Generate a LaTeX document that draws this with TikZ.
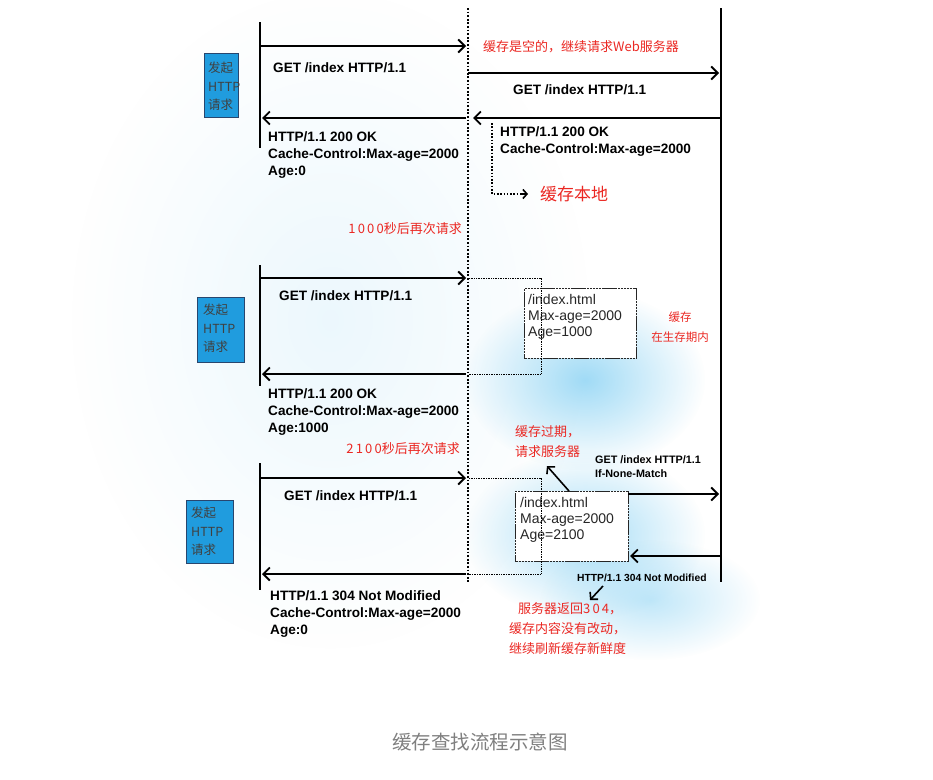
\documentclass[tikz,border=0pt]{standalone}
\usepackage{fontspec}
\setmainfont{Liberation Sans}
\newfontfamily\cjk{Noto Sans CJK SC}
\usetikzlibrary{arrows.meta,fadings}
\definecolor{boxblue}{RGB}{32,156,222}
\definecolor{boxedge}{RGB}{40,70,110}
\definecolor{glowblue}{RGB}{150,215,245}
\definecolor{redtxt}{RGB}{235,40,35}
\definecolor{captiongray}{RGB}{128,128,128}
\tikzfading[name=glowfade, inner color=transparent!0, outer color=transparent!100]
\begin{document}
\begin{tikzpicture}[x=1pt,y=-1pt,
  msg/.style={line width=1.8pt, -{Straight Barb[length=6.5pt,width=13pt,line width=1.8pt]}},
  smallmsg/.style={line width=1.6pt, -{Straight Barb[length=5pt,width=11pt,line width=1.6pt]}},
  lifeline/.style={line width=2pt},
  cacheline/.style={line width=2pt, dash pattern=on 1.8pt off 1.8pt},
  thindot/.style={line width=0.7pt, dash pattern=on 0.8pt off 0.9pt},
  lbl/.style={font=\bfseries\fontsize{13.6}{17}\selectfont, inner sep=0pt, align=left},
  smlbl/.style={font=\bfseries\fontsize{10.8}{14}\selectfont, inner sep=0pt, align=left},
  redlbl/.style={text=redtxt, font=\cjk\fontsize{13}{20}\selectfont, inner sep=0pt, align=left},
  startbox/.style={draw=boxedge, line width=0.6pt, fill=boxblue, minimum width=#1, inner sep=0pt},
  boxtxt/.style={font=\cjk\fontsize{12.5}{18.5}\selectfont, text=black!75, inner sep=0pt, align=left},
  cachebox/.style={draw=black!85, line width=0.9pt, dash pattern=on 2.5pt off 0.6pt, fill=white, inner sep=0pt},
  cachetxt/.style={font=\fontsize{14}{16}\selectfont, text=black!85, inner sep=0pt, align=left}
]
\useasboundingbox (0,0) rectangle (933,779);
\fill[white] (0,0) rectangle (933,779);

% background glows
\fill[glowblue, opacity=0.18, path fading=glowfade] (330,320) ellipse (260 and 330);
\fill[glowblue, opacity=0.9, path fading=glowfade] (585,380) ellipse (120 and 90);
\fill[glowblue, opacity=0.85, path fading=glowfade] (585,535) ellipse (120 and 85);
\fill[glowblue, opacity=0.6, path fading=glowfade] (650,600) ellipse (110 and 60);

% lifelines
\coordinate (cacheTop) at (468,8);
\coordinate (cacheBot) at (468,582);
\coordinate (srvTop) at (721,8);
\coordinate (srvBot) at (721,582);
\draw[cacheline] (cacheTop) -- (cacheBot);
\draw[lifeline] (srvTop) -- (srvBot);

\coordinate (cl1t) at (260,22);  \coordinate (cl1b) at (260,148);
\coordinate (cl2t) at (260,265); \coordinate (cl2b) at (260,386);
\coordinate (cl3t) at (260,463); \coordinate (cl3b) at (260,590);
\draw[lifeline] (cl1t) -- (cl1b);
\draw[lifeline] (cl2t) -- (cl2b);
\draw[lifeline] (cl3t) -- (cl3b);

% start boxes
\node[startbox=34pt, minimum height=64pt, anchor=north west] (sb1) at (204,53) {};
\node[boxtxt, anchor=north west] (sb1t) at (208,62) {发起\\HTTP\\请求};
\node[startbox=47pt, minimum height=65pt, anchor=north west] (sb2) at (197,297) {};
\node[boxtxt, anchor=north west] (sb2t) at (203,304) {发起\\HTTP\\请求};
\node[startbox=47pt, minimum height=63pt, anchor=north west] (sb3) at (186,500) {};
\node[boxtxt, anchor=north west] (sb3t) at (191,507) {发起\\HTTP\\请求};

% ---------- round 1 ----------
\coordinate (r1a) at (260,46);  \coordinate (r1b) at (466,46);
\draw[msg] (r1a) -- (r1b);
\node[lbl, anchor=west] (r1l) at (273,68) {GET /index HTTP/1.1};
\node[redlbl, anchor=west] (r1red) at (483,47) {缓存是空的，继续请求Web服务器};

\coordinate (r1c) at (468,73);  \coordinate (r1d) at (719,73);
\draw[msg] (r1c) -- (r1d);
\node[lbl, anchor=west] (r1sl) at (513,90) {GET /index HTTP/1.1};

\coordinate (r1e) at (721,118); \coordinate (r1f) at (473,118);
\draw[msg] (r1e) -- (r1f);
\coordinate (r1g) at (466,118); \coordinate (r1h) at (262,118);
\draw[msg] (r1g) -- (r1h);

\node[lbl, anchor=north west] (r1resp) at (268,131) {HTTP/1.1 200 OK\\Cache-Control:Max-age=2000\\Age:0};
\node[lbl, anchor=north west] (r1sresp) at (500,126) {HTTP/1.1 200 OK\\Cache-Control:Max-age=2000};

\coordinate (st1) at (492,123); \coordinate (st2) at (492,194);
\node[text=redtxt, font=\cjk\fontsize{17}{20}\selectfont, inner sep=0pt, anchor=west] (store) at (540,194) {缓存本地};
\draw[line width=1.6pt, dash pattern=on 1.6pt off 1.7pt] (st1) -- (st2) -- ([xshift=-14pt]store.west);
\draw[line width=1.6pt, -{Straight Barb[length=4pt,width=9pt,line width=1.6pt]}] ([xshift=-18pt]store.west) -- ([xshift=-12pt]store.west);

\node[redlbl, anchor=east] (wait1) at (462,229) {1\,0\,0\,0秒后再次请求};

% ---------- round 2 ----------
\coordinate (r2a) at (260,278);  \coordinate (r2b) at (466,278);
\draw[msg] (r2a) -- (r2b);
\node[lbl, anchor=west] (r2l) at (279,296) {GET /index HTTP/1.1};
\coordinate (d2a) at (469,278); \coordinate (d2b) at (541,278);
\coordinate (d2c) at (541,374); \coordinate (d2d) at (469,374);
\draw[thindot] (d2a) -- (d2b) -- (d2c) -- (d2d);

\node[cachebox, minimum width=112pt, minimum height=70pt, anchor=north west] (cb2) at (524,288) {};
\node[cachetxt, anchor=north west] (cb2t) at (528,294) {/index.html\\Max-age=2000\\Age=1000};
\draw[thindot] (541,288) -- (541,358);
\node[text=redtxt, font=\cjk\fontsize{11.5}{20}\selectfont, inner sep=0pt, align=center] (live) at (680,327) {缓存\\在生存期内};

\coordinate (r2c) at (466,374); \coordinate (r2d) at (262,374);
\draw[msg] (r2c) -- (r2d);
\node[lbl, anchor=north west] (r2resp) at (268,388) {HTTP/1.1 200 OK\\Cache-Control:Max-age=2000\\Age:1000};
\node[redlbl, anchor=east] (wait2) at (460,449) {2\,1\,0\,0秒后再次请求};

% ---------- round 3 ----------
\coordinate (r3a) at (260,478);  \coordinate (r3b) at (466,478);
\draw[msg] (r3a) -- (r3b);
\node[lbl, anchor=west] (r3l) at (284,496) {GET /index HTTP/1.1};
\coordinate (d3a) at (469,478); \coordinate (d3b) at (541,478);
\coordinate (d3c) at (541,574); \coordinate (d3d) at (469,574);
\draw[thindot] (d3a) -- (d3b) -- (d3c) -- (d3d);

\node[cachebox, minimum width=113pt, minimum height=70pt, anchor=north west] (cb3) at (515,491) {};
\node[cachetxt, anchor=north west] (cb3t) at (520,497) {/index.html\\Max-age=2000\\Age=2100};
\draw[thindot] (541,491) -- (541,561);

\node[redlbl, anchor=north west] (expired) at (515,425) {缓存过期，\\请求服务器};
\coordinate (exA) at (569,491); \coordinate (exB) at (547,466);
\draw[smallmsg] (exA) -- (exB);

\node[smlbl, anchor=north west] (r3sl) at (595,455) {GET /index HTTP/1.1\\If-None-Match};
\coordinate (r3c) at (628,494); \coordinate (r3d) at (719,494);
\draw[msg] (r3c) -- (r3d);
\coordinate (r3e) at (721,556); \coordinate (r3f) at (630,556);
\draw[msg] (r3e) -- (r3f);
\node[font=\bfseries\fontsize{10.3}{12}\selectfont, inner sep=0pt, anchor=west] (r3s304) at (577,578) {HTTP/1.1 304 Not Modified};
\coordinate (nmA) at (603,586); \coordinate (nmB) at (590,600);
\draw[smallmsg] (nmA) -- (nmB);
\node[redlbl, anchor=north west] (notmod) at (509,602) {\hspace*{9pt}服务器返回3\,0\,4，\\缓存内容没有改动，\\继续刷新缓存新鲜度};

\coordinate (r3g) at (466,574); \coordinate (r3h) at (262,574);
\draw[msg] (r3g) -- (r3h);
\node[lbl, anchor=north west] (r3resp) at (270,590) {HTTP/1.1 304 Not Modified\\Cache-Control:Max-age=2000\\Age:0};

% caption
\node[text=captiongray, font=\cjk\fontsize{19.5}{22}\selectfont, inner sep=0pt] (caption) at (480,742) {缓存查找流程示意图};
\end{tikzpicture}
\end{document}
